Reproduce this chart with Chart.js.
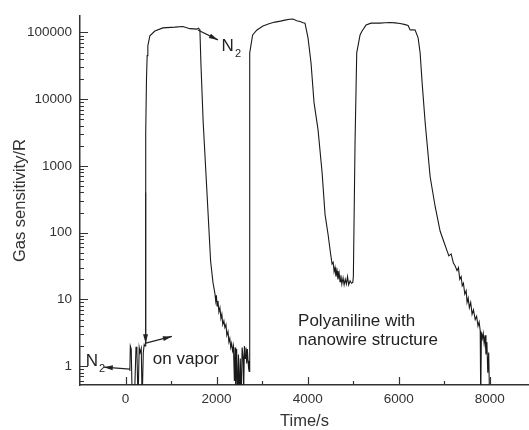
<!DOCTYPE html>
<html>
<head>
<meta charset="utf-8">
<script src="https://cdn.jsdelivr.net/npm/chart.js@4"></script>
<style>
  body { margin: 0; background: #fff; }
  canvas { display: block; }
</style>
</head>
<body>
<canvas id="myChart" width="529" height="430"></canvas>
<script>
// time (s) and gas sensitivity
const timeS = [
  95, 105, 125, 145, 200, 230, 250, 275, 300, 320, 345, 365, 390, 410, 430,
  440, 446, 460, 475, 490, 534, 644, 820, 1083, 1259, 1413, 1500, 1567, 1600, 1633,
  1655, 1705, 1787, 1868, 1920, 1963, 1980, 1995, 2010, 2030, 2050, 2073, 2095,
  2115, 2135, 2160, 2182, 2205, 2225, 2250, 2270, 2290, 2310, 2330, 2350, 2370,
  2390, 2405, 2420, 2440, 2460, 2480, 2500, 2520, 2540, 2560, 2580, 2595, 2610,
  2625, 2645, 2660, 2675, 2690, 2705, 2716,
  2722, 2732, 2791, 2886, 3018, 3150, 3282, 3400, 3501, 3600, 3677, 3760, 3831,
  3900, 3941, 4007, 4073, 4139, 4227, 4315, 4381, 4447, 4500, 4535, 4560, 4580,
  4600, 4620, 4645, 4665, 4690, 4710, 4730, 4750, 4777, 4800, 4825, 4850, 4875,
  4900, 4931, 4960, 4990, 5003,
  5040, 5077, 5150, 5194, 5282, 5392, 5590, 5700, 5809, 5920, 6029, 6120, 6205,
  6249, 6300, 6359, 6425, 6469, 6513, 6579, 6689, 6799, 6909, 7000, 7063, 7100,
  7150, 7200, 7239, 7280, 7310, 7340, 7370, 7393, 7420, 7450, 7480, 7500, 7525,
  7550, 7580, 7610, 7640, 7679, 7710, 7740, 7765, 7789, 7800, 7815, 7835, 7855,
  7875, 7895, 7915, 7935, 7955, 7975, 7995
];
const sensR = [
  0.85, 2.0, 1.8, 0.35, 0.4, 1.95, 1.6, 0.3, 1.9, 1.6, 1.85, 0.3, 1.6, 2.1, 2.0,
  2.2, 3000, 20000, 45000, 63000, 89000, 105000, 117000, 120000, 123000, 114000, 113000, 112000, 116000, 110000,
  35000, 4500, 414, 37.6, 18, 12.2, 9.5, 11.5, 8, 9.5, 6.5, 7.5, 5.2,
  6, 4.2, 4.8, 3.8, 4.2, 2.9, 3.3, 2.3, 2.6, 1.9, 2.2, 1.7, 2.0,
  0.6, 1.9, 0.4, 1.8, 0.3, 1.5, 0.3, 1.3, 0.3, 1.9, 1.4, 0.4, 2.0,
  1.3, 1.9, 1.1, 1.8, 1.2, 0.9, 0.83,
  50, 49500, 91800, 109000, 125000, 135000, 143000, 148000, 153000, 158000, 159000, 150000, 146000,
  140000, 138000, 82800, 35200, 8960, 3500, 817, 188, 94.7, 50, 34, 36, 26,
  30, 22, 26.7, 20, 25, 18.5, 23, 17, 21, 16.5, 20, 17, 22,
  16.5, 19, 17.5, 18, 22,
  2280, 49500, 91800, 105000, 129000, 138000, 138000, 140000, 141000, 139000, 136000, 132000, 127000,
  109000, 110000, 109000, 82800, 49500, 17700, 4520, 689, 247, 105, 70, 53, 45,
  48, 35, 31.7, 27, 30, 20, 22, 16, 17.5, 12, 13.5, 9, 10.5,
  7.5, 9, 6, 7, 5, 5.6, 4, 4.6, 3.4, 0.3, 3.2, 2.6, 3.1,
  2.2, 2.9, 1.5, 2.3, 0.8, 1.6, 0.3
];

const xTickVals = [0, 2000, 4000, 6000, 8000];
const xMinorVals = [1000, 3000, 5000, 7000];
const yTickVals = [1, 10, 100, 1000, 10000, 100000];

// labels placed in data coordinates [time, sensitivity]
const noteTexts = ['N', 'N', 'on vapor', 'Polyaniline with', 'nanowire structure'];
const notePos = [[2110, 53100], [-873, 1.0], [600, 1.07], [3789, 3.93], [3789, 2.05]];
const noteSub = ['2', '2', '', '', ''];
// arrows [t0, v0, t1, v1], head at the second point
const arrows = [
  [1589, 109000, 2029, 77400],
  [95, 0.902, -477, 0.966],
  [424, 2.2, 1018, 2.79],
  [440, 400, 440, 2.2]
];

const ink = '#333';
Chart.defaults.font.family = "'Liberation Sans', Arial, sans-serif";
Chart.defaults.color = ink;

const inwardTicks = {
  id: 'inwardTicks',
  afterDraw(chart) {
    const ctx = chart.ctx;
    const xs = chart.scales.x, ys = chart.scales.y;
    const area = chart.chartArea;
    ctx.save();
    ctx.strokeStyle = '#333';
    ctx.lineWidth = 1.2;
    ctx.beginPath();
    xTickVals.forEach(v => {
      const px = Math.round(xs.getPixelForValue(v)) + 0.5;
      ctx.moveTo(px, area.bottom); ctx.lineTo(px, area.bottom - 8);
    });
    xMinorVals.forEach(v => {
      const px = Math.round(xs.getPixelForValue(v)) + 0.5;
      ctx.moveTo(px, area.bottom); ctx.lineTo(px, area.bottom - 4);
    });
    yTickVals.forEach(v => {
      const py = Math.round(ys.getPixelForValue(v)) + 0.5;
      ctx.moveTo(area.left, py); ctx.lineTo(area.left + 8, py);
    });
    [0.1].concat(yTickVals).forEach(d => {
      for (let k = 2; k <= 9; k++) {
        const v = d * k;
        if (v < ys.min || v > ys.max) continue;
        const py = Math.round(ys.getPixelForValue(v)) + 0.5;
        ctx.moveTo(area.left, py); ctx.lineTo(area.left + 4, py);
      }
    });
    ctx.stroke();
    ctx.restore();
  }
};

const notes = {
  id: 'notes',
  afterDatasetsDraw(chart) {
    const ctx = chart.ctx;
    const xs = chart.scales.x, ys = chart.scales.y;
    ctx.save();
    ctx.fillStyle = '#222';
    ctx.strokeStyle = '#222';
    ctx.textBaseline = 'alphabetic';
    ctx.textAlign = 'left';
    noteTexts.forEach((txt, i) => {
      const px = xs.getPixelForValue(notePos[i][0]);
      const py = ys.getPixelForValue(notePos[i][1]);
      ctx.font = "17px 'Liberation Sans', Arial, sans-serif";
      ctx.fillText(txt, px, py);
      if (noteSub[i]) {
        const w = ctx.measureText(txt).width;
        ctx.font = "11px 'Liberation Sans', Arial, sans-serif";
        ctx.fillText(noteSub[i], px + w + 1, py + 6);
      }
    });
    ctx.lineWidth = 1.2;
    arrows.forEach(a => {
      const x0 = xs.getPixelForValue(a[0]), y0 = ys.getPixelForValue(a[1]);
      const x1 = xs.getPixelForValue(a[2]), y1 = ys.getPixelForValue(a[3]);
      const ang = Math.atan2(y1 - y0, x1 - x0);
      ctx.beginPath();
      ctx.moveTo(x0, y0); ctx.lineTo(x1, y1);
      ctx.stroke();
      ctx.beginPath();
      ctx.moveTo(x1, y1);
      ctx.lineTo(x1 - 9 * Math.cos(ang) + 2.5 * Math.sin(ang), y1 - 9 * Math.sin(ang) - 2.5 * Math.cos(ang));
      ctx.lineTo(x1 - 9 * Math.cos(ang) - 2.5 * Math.sin(ang), y1 - 9 * Math.sin(ang) + 2.5 * Math.cos(ang));
      ctx.closePath();
      ctx.fill();
    });
    ctx.restore();
  }
};

const ctx = document.getElementById('myChart').getContext('2d');
const chart = new Chart(ctx, {
  type: 'line',
  data: {
    datasets: [{
      label: 'Gas sensitivity',
      data: timeS.map((t, i) => ({ x: t, y: sensR[i] })),
      borderColor: '#1a1a1a',
      borderWidth: 1.1,
      pointRadius: 0,
      tension: 0,
      fill: false
    }]
  },
  options: {
    responsive: false,
    animation: false,
    layout: { padding: { top: 13, right: 0, left: 0, bottom: 0 } },
    plugins: {
      legend: { display: false },
      tooltip: { enabled: false }
    },
    scales: {
      x: {
        type: 'linear',
        min: -1000,
        max: 8860,
        afterBuildTicks: s => { s.ticks = xTickVals.map(v => ({ value: v })); },
        afterFit: s => { s.height = 45; },
        grid: { display: false, drawTicks: false, tickLength: 0 },
        border: { display: true, color: '#333', width: 1.5 },
        ticks: {
          padding: 6,
          maxRotation: 0,
          font: { size: 13.5 },
          color: ink,
          callback: v => String(v)
        },
        title: {
          display: true,
          text: 'Time/s',
          color: ink,
          font: { size: 16.5, lineHeight: 1 },
          padding: { top: 0, bottom: 0 }
        }
      },
      y: {
        type: 'logarithmic',
        min: 0.522,
        max: 175800,
        afterBuildTicks: s => { s.ticks = yTickVals.map(v => ({ value: v })); },
        afterFit: s => { s.width = 80; },
        grid: { display: false, drawTicks: false, tickLength: 0 },
        border: { display: true, color: '#333', width: 1.5 },
        ticks: {
          padding: 8,
          font: { size: 13.5 },
          color: ink,
          callback: v => String(v)
        },
        title: {
          display: true,
          text: 'Gas sensitivity/R',
          color: ink,
          font: { size: 16.5, lineHeight: 1 },
          padding: { top: 12.5, bottom: 0 }
        }
      }
    }
  },
  plugins: [inwardTicks, notes]
});
</script>
</body>
</html>
